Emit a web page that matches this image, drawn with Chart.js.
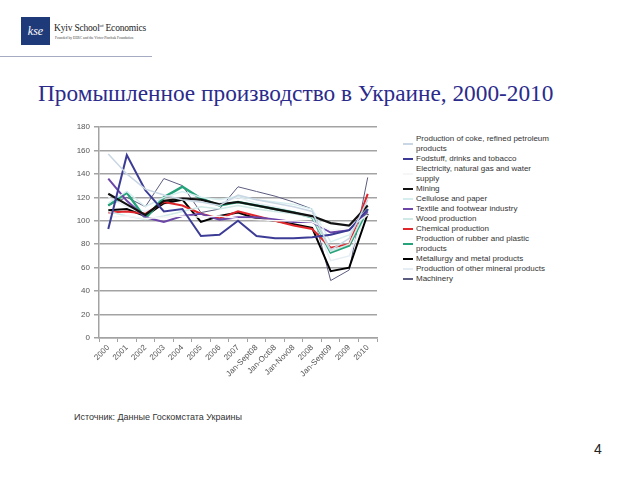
<!DOCTYPE html>
<html>
<head>
<meta charset="utf-8">
<script src="https://cdn.jsdelivr.net/npm/chart.js"></script>
<style>
  body { margin: 0; width: 640px; height: 480px; background: #fff; position: relative; overflow: hidden; font-family: "Liberation Sans", Arial, sans-serif; }
  .logo-box { position: absolute; left: 21px; top: 17px; width: 29px; height: 28px; background: #1f3a78; color: #fff; font: italic 12px "Liberation Serif", serif; text-align: center; line-height: 28px; }
  .logo-name { position: absolute; left: 54px; top: 23px; font: 9.5px "Liberation Serif", serif; color: #222; white-space: nowrap; letter-spacing: -0.2px; }
  .logo-name sup { font-size: 5px; }
  .logo-sub { position: absolute; left: 55px; top: 36px; font: 3.6px "Liberation Serif", serif; color: #444; white-space: nowrap; }
  .rule { position: absolute; left: 0; top: 56px; width: 152px; height: 1px; background: #a7abc2; }
  .title { position: absolute; left: 38px; top: 80px; font: 23.3px "Liberation Serif", serif; color: #2b2b8c; white-space: nowrap; }
  #wrap { position: absolute; left: 60px; top: 116px; width: 330px; height: 265px; }
  #legend { position: absolute; left: 403px; top: 134px; width: 150px; font: 8px "Liberation Sans", Arial, sans-serif; color: #333; line-height: 10px; }
  .item { display: flex; align-items: center; }
  .sw { width: 10px; height: 2px; flex: none; margin-right: 3px; }
  .source { position: absolute; left: 74px; top: 412px; font: 9px "Liberation Sans", Arial, sans-serif; color: #333; }
  .page { position: absolute; left: 594px; top: 441px; font: 14px "Liberation Sans", Arial, sans-serif; color: #222; }
</style>
</head>
<body>
<div class="logo-box">kse</div>
<div class="logo-name">Kyiv School<sup>of</sup> Economics</div>
<div class="logo-sub">Founded by EERC and the Victor Pinchuk Foundation</div>
<div class="rule"></div>
<div class="title">Промышленное производство в Украине, 2000-2010</div>
<div id="wrap"><canvas id="myChart"></canvas></div>
<div id="legend"></div>
<div class="source">Источник:  Данные Госкомстата Украины</div>
<div class="page">4</div>
<script>
const labels = ['2000','2001','2002','2003','2004','2005','2006','2007','Jan-Sept08','Jan-Oct08','Jan-Nov08','2008','Jan-Sept09','2009','2010'];
const yTicks = [0, 20, 40, 60, 80, 100, 120, 140, 160, 180];

const names = [
  'Production of coke, refined petroleum products',
  'Fodstuff, drinks and tobacco',
  'Electricity, natural gas and water supply',
  'Mining',
  'Cellulose and paper',
  'Textile and footwear industry',
  'Wood production',
  'Chemical production',
  'Production of rubber and plastic products',
  'Metallurgy and metal products',
  'Production of other mineral products',
  'Machinery'
];

const coke        = [157, 140, 127, 122, 118, 116, 113, 122, 118, 115, 112, 108, 75, 85, 118];
const foodstuff   = [93, 156, 126, 108, 110, 87, 88, 100, 87, 85, 85, 86, 88, 92, 110];
const electricity = [103, 104, 102, 103, 104, 103, 104, 102, 101, 100, 100, 99, 92, 94, 105];
const mining      = [123, 114, 105, 117, 119, 118, 114, 116, 113, 110, 107, 104, 98, 96, 113];
const cellulose   = [115, 125, 112, 120, 125, 120, 118, 121, 118, 116, 114, 110, 82, 88, 114];
const textile     = [136, 117, 103, 99, 104, 106, 101, 103, 103, 101, 99, 99, 90, 92, 108];
const wood        = [108, 104, 101, 104, 108, 112, 110, 113, 110, 108, 106, 103, 74, 80, 112];
const chemical    = [107, 108, 106, 116, 113, 106, 102, 108, 104, 100, 96, 93, 77, 80, 123];
const rubber      = [113, 124, 102, 120, 129, 119, 113, 116, 113, 110, 107, 103, 73, 79, 110];
const metallurgy  = [109, 110, 104, 115, 118, 99, 104, 107, 102, 100, 97, 94, 57, 60, 106];
const minerals    = [120, 112, 108, 114, 118, 116, 115, 120, 115, 112, 108, 104, 66, 70, 110];
const machinery   = [113, 120, 112, 136, 130, 107, 110, 129, 125, 121, 116, 110, 49, 58, 137];

const seriesData = [coke, foodstuff, electricity, mining, cellulose, textile, wood, chemical, rubber, metallurgy, minerals, machinery];
const colors = ['#c9d6e3', '#3c3c96', '#f6f6f6', '#111111', '#d6eef0', '#6b46a8', '#cfe9e6', '#e0262b', '#26a37a', '#000000', '#e6eef5', '#5c5c80'];
const widths = [1.5, 2, 1.5, 2.2, 1.5, 2, 1.5, 2, 2.5, 2, 1.5, 1];

const datasets = names.map((n, i) => ({
  label: n,
  data: seriesData[i],
  borderColor: colors[i],
  backgroundColor: colors[i],
  borderWidth: widths[i],
  pointRadius: 0,
  tension: 0,
  fill: false
}));

// legend as html so long names can wrap like in the slide
const legend = document.getElementById('legend');
names.forEach((n, i) => {
  const row = document.createElement('div');
  row.className = 'item';
  row.innerHTML = '<span class="sw" style="background:' + colors[i] + '"></span><span></span>';
  row.lastChild.textContent = n;
  legend.appendChild(row);
});

const gridGray = '#a3a3a3';
const ctx = document.getElementById('myChart');
const myChart = new Chart(ctx, {
  type: 'line',
  data: { labels: labels, datasets: datasets },
  options: {
    responsive: true,
    maintainAspectRatio: false,
    animation: false,
    layout: { padding: { top: 11, right: 13, left: 0, bottom: 0 } },
    scales: {
      x: {
        offset: true,
        grid: { offset: true, drawOnChartArea: false, drawTicks: true, tickLength: 4, color: gridGray },
        border: { display: true, color: gridGray, width: 1.5 },
        ticks: { color: '#555', font: { size: 8, family: 'Liberation Sans' }, minRotation: 45, maxRotation: 45, autoSkip: false, padding: 1 },
        afterFit: (s) => { s.height = 43; }
      },
      y: {
        min: 0,
        max: 180,
        afterBuildTicks: (s) => { s.ticks = yTicks.map(v => ({ value: v })); },
        grid: { color: gridGray, lineWidth: 1.5, tickLength: 5 },
        border: { display: true, color: gridGray, width: 1.5 },
        ticks: { color: '#555', font: { size: 8, family: 'Liberation Sans' }, padding: 4 },
        afterFit: (s) => { s.width = 39; }
      }
    },
    plugins: {
      legend: { display: false },
      tooltip: { enabled: false }
    }
  }
});
</script>
</body>
</html>
